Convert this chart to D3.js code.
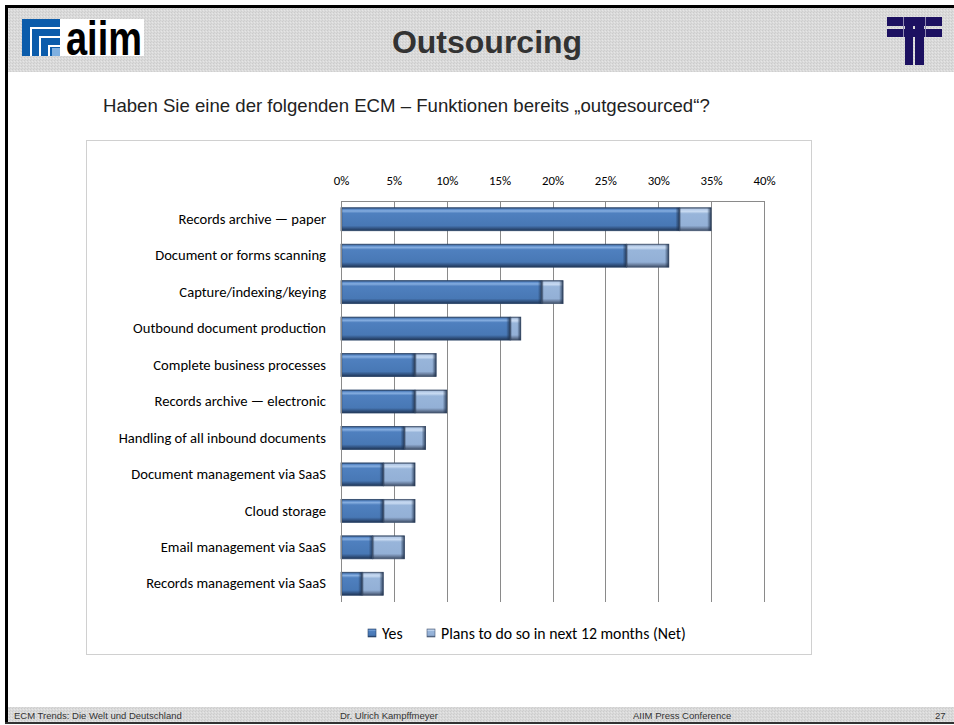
<!DOCTYPE html>
<html><head><meta charset="utf-8">
<script src="https://cdn.jsdelivr.net/npm/d3@7"></script>
<style>html,body{margin:0;padding:0;background:#fff;}svg{display:block;}</style>
</head><body>
<script>
const categories = ["Records archive — paper","Document or forms scanning","Capture/indexing/keying","Outbound document production","Complete business processes","Records archive — electronic","Handling of all inbound documents","Document management via SaaS","Cloud storage","Email management via SaaS","Records management via SaaS"];
const yesValues = [0.32,0.27,0.19,0.16,0.07,0.07,0.06,0.04,0.04,0.03,0.02];
const planValues = [0.03,0.04,0.02,0.01,0.02,0.03,0.02,0.03,0.03,0.03,0.02];
const seriesNames = ["Yes","Plans to do so in next 12 months (Net)"];
const tickValues = [0,0.05,0.10,0.15,0.20,0.25,0.30,0.35,0.40];
const titleText = "Outsourcing";
const questionText = "Haben Sie eine der folgenden ECM – Funktionen bereits „outgesourced“?";
const footerTexts = ["ECM Trends: Die Welt und Deutschland","Dr. Ulrich Kampffmeyer","AIIM Press Conference","27"];

const W=954,H=725;
const svg=d3.select("body").append("svg").attr("width",W).attr("height",H);
const defs=svg.append("defs");
const pat=defs.append("pattern").attr("id","dither").attr("width",3).attr("height",3).attr("patternUnits","userSpaceOnUse");
pat.append("rect").attr("width",3).attr("height",3).attr("fill","#dadada");
pat.append("rect").attr("x",0).attr("y",0).attr("width",1).attr("height",1).attr("fill","#cbcbcb");
pat.append("rect").attr("x",2).attr("y",1).attr("width",1).attr("height",1).attr("fill","#e6e6e6");
pat.append("rect").attr("x",1).attr("y",2).attr("width",1).attr("height",1).attr("fill","#cfcfcf");

function vgrad(id,stops){const g=defs.append("linearGradient").attr("id",id).attr("x1",0).attr("y1",0).attr("x2",0).attr("y2",1);
 stops.forEach(s=>g.append("stop").attr("offset",s[0]).attr("stop-color",s[1]));}
vgrad("gYes",[[0,"#2d4a72"],[0.07,"#5b8bc9"],[0.14,"#86aee0"],[0.24,"#4f80bf"],[0.78,"#4878b5"],[0.88,"#35598a"],[1,"#1f3556"]]);
vgrad("gPlan",[[0,"#4d5f7a"],[0.07,"#b5cbe8"],[0.16,"#c9dbf2"],[0.26,"#98b5da"],[0.78,"#93b0d6"],[0.88,"#6f85a6"],[1,"#3e4e66"]]);
function hgrad(id,stops){const g=defs.append("linearGradient").attr("id",id).attr("x1",0).attr("y1",0).attr("x2",1).attr("y2",0);
 stops.forEach(s=>g.append("stop").attr("offset",s[0]).attr("stop-color",s[1]).attr("stop-opacity",s[2]));}
hgrad("edgeR",[[0,"#1d2f4a",0],[1,"#1d2f4a",0.85]]);
hgrad("edgeL",[[0,"#1d2f4a",0.6],[1,"#1d2f4a",0]]);

svg.append("rect").attr("x",0).attr("y",0).attr("width",W).attr("height",H).attr("fill","#fff");
svg.append("rect").attr("x",8).attr("y",8).attr("width",W-8).attr("height",64).attr("fill","url(#dither)");
svg.append("rect").attr("x",8).attr("y",707).attr("width",W-8).attr("height",15).attr("fill","url(#dither)");
svg.append("rect").attr("x",5).attr("y",5).attr("width",W-5).attr("height",3).attr("fill","#000");
svg.append("rect").attr("x",5).attr("y",5).attr("width",3).attr("height",719).attr("fill","#000");
svg.append("rect").attr("x",5).attr("y",722).attr("width",W-5).attr("height",2).attr("fill","#333");

const lg=svg.append("g");
lg.append("rect").attr("x",22).attr("y",19).attr("width",38).attr("height",37).attr("fill","#0b5cab");
[[31,28],[40,37],[49,46]].forEach(p=>{
 lg.append("path").attr("d",`M${p[0]},56 V${p[1]} H60`).attr("fill","none").attr("stroke","#fff").attr("stroke-width",2);
});
lg.append("rect").attr("x",52).attr("y",48).attr("width",8).attr("height",8).attr("fill","#7fb0e0");
lg.append("rect").attr("x",60).attr("y",19).attr("width",84).attr("height",37).attr("fill","#fff");
lg.append("text").attr("x",66).attr("y",55).attr("font-family","'Liberation Sans Narrow','Liberation Sans',Arial,sans-serif")
 .attr("font-weight","bold").attr("font-size",48).attr("fill","#000").attr("textLength",76).attr("lengthAdjust","spacingAndGlyphs").text("aiim");

const rl=svg.append("g").attr("fill","#1c1060");
rl.append("rect").attr("x",887).attr("y",17).attr("width",55).attr("height",9);
rl.append("rect").attr("x",887).attr("y",29).attr("width",55).attr("height",8);
rl.append("rect").attr("x",905).attr("y",17).attr("width",8).attr("height",48);
rl.append("rect").attr("x",915).attr("y",17).attr("width",9).attr("height",48);
svg.append("line").attr("x1",903.5).attr("x2",903.5).attr("y1",17).attr("y2",37).attr("stroke","#8c86b0").attr("stroke-width",1);
svg.append("line").attr("x1",925.5).attr("x2",925.5).attr("y1",17).attr("y2",37).attr("stroke","#8c86b0").attr("stroke-width",1);

svg.append("text").attr("x",487).attr("y",53).attr("text-anchor","middle").attr("font-family","'Liberation Sans',Arial,sans-serif")
 .attr("font-weight","bold").attr("font-size",32).attr("fill","#333").text(titleText);
svg.append("text").attr("x",103).attr("y",112).attr("font-family","'Liberation Sans',Arial,sans-serif")
 .attr("font-size",18.6).attr("fill","#222").text(questionText);

const fx=[14,340,633,935];
footerTexts.forEach((t,i)=>svg.append("text").attr("x",fx[i]).attr("y",719).attr("font-family","'Liberation Sans',Arial,sans-serif")
 .attr("font-size",9.5).attr("fill","#333").text(t));

svg.append("rect").attr("x",86.5).attr("y",140.5).attr("width",725).attr("height",514).attr("fill","#fff").attr("stroke","#d0d0d0");

const x=d3.scaleLinear().domain([0,0.40]).range([341,764]);
const y=d3.scaleBand().domain(categories).range([201,602]).paddingInner(0.37).paddingOuter(0.185);
const fontC="Carlito,Calibri,'Open Sans','Noto Sans',sans-serif";

svg.append("g").selectAll("line").data(tickValues).join("line")
 .attr("x1",d=>Math.round(x(d))+0.5).attr("x2",d=>Math.round(x(d))+0.5).attr("y1",201).attr("y2",602)
 .attr("stroke","#8a8a8a").attr("stroke-width",1);
svg.append("line").attr("x1",341).attr("x2",x(0.40)+1).attr("y1",201.5).attr("y2",201.5).attr("stroke","#8a8a8a");

const xAxis=d3.axisTop(x).tickValues(tickValues).tickFormat(d3.format(".0%")).tickSize(0).tickPadding(0);
const ax=svg.append("g").attr("transform","translate(0,185)").call(xAxis);
ax.select(".domain").remove();
ax.selectAll("text").attr("font-family",fontC).attr("font-size",12.8).attr("fill","#000").attr("dy","0");

const yAxis=d3.axisLeft(y).tickSize(0).tickPadding(0);
const ay=svg.append("g").attr("transform","translate(326,0)").call(yAxis);
ay.select(".domain").remove();
ay.selectAll("text").attr("font-family",fontC).attr("font-size",14.6).attr("fill","#000");

const data=categories.map((c,i)=>({c,yes:yesValues[i],plan:planValues[i]}));
function seg(g,x0,x1,yy,h,fill,stroke){
 g.append("rect").attr("x",x0).attr("y",yy).attr("width",x1-x0).attr("height",h).attr("fill",fill).attr("stroke",stroke).attr("stroke-width",0.8);
 const ew=Math.min(4,(x1-x0)/3);
 g.append("rect").attr("x",x1-ew).attr("y",yy).attr("width",ew).attr("height",h).attr("fill","url(#edgeR)");
 g.append("rect").attr("x",x0).attr("y",yy).attr("width",Math.min(2,ew)).attr("height",h).attr("fill","url(#edgeL)");
}
const bg=svg.append("g");
data.forEach(d=>{
 const g=bg.append("g");
 const yy=y(d.c),h=y.bandwidth();
 seg(g,x(0),x(d.yes),yy,h,"url(#gYes)","#2a4468");
 seg(g,x(d.yes),x(d.yes+d.plan),yy,h,"url(#gPlan)","#465873");
});
svg.append("line").attr("x1",341.5).attr("x2",341.5).attr("y1",201).attr("y2",602).attr("stroke","#8a8a8a");

const leg=svg.append("g");
const lx=[368,427];
seriesNames.forEach((n,i)=>{
 leg.append("rect").attr("x",lx[i]).attr("y",629).attr("width",8).attr("height",8).attr("fill",i===0?"url(#gYes)":"url(#gPlan)").attr("stroke",i===0?"#2a4468":"#465873").attr("stroke-width",0.6);
 leg.append("text").attr("x",lx[i]+14).attr("y",638.5).attr("font-family",fontC).attr("font-size",15.8).attr("fill","#000").text(n);
});
</script>
</body></html>
